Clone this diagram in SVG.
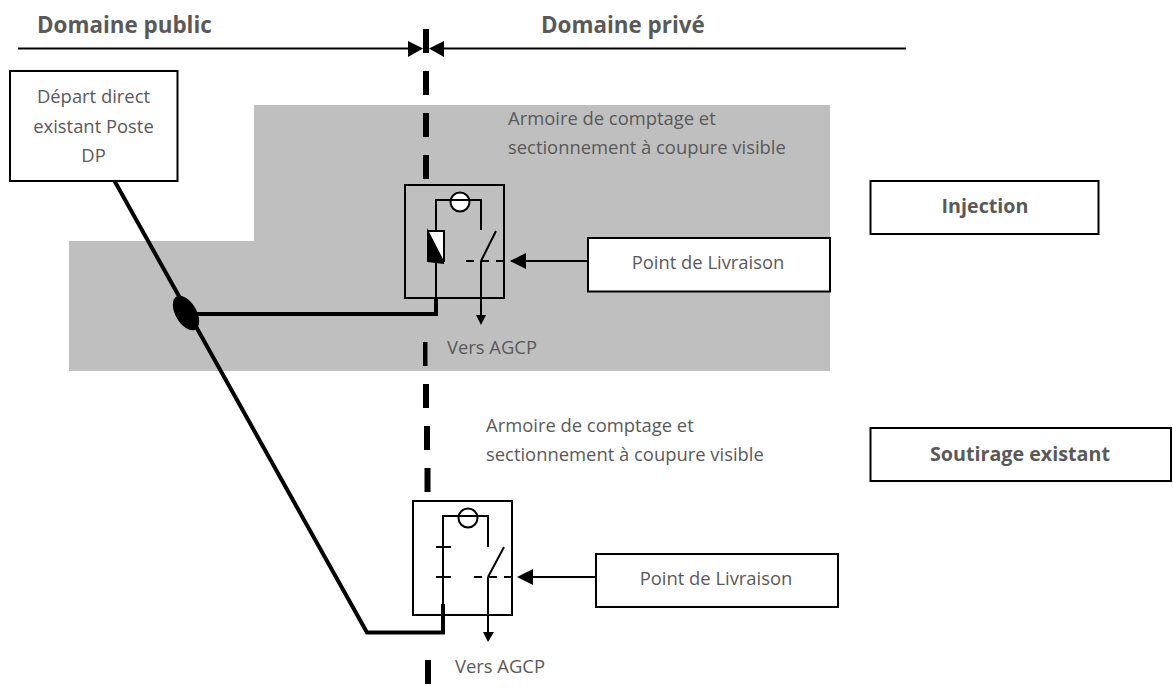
<svg xmlns="http://www.w3.org/2000/svg" width="1173" height="698" viewBox="0 0 1173 698">
<style>
text{font-family:"Open Sans","Noto Sans","Liberation Sans",sans-serif;font-size:18.4px;fill:#595959}
.b{font-weight:700;font-size:22.400px}
.c{font-weight:700;font-size:19.700px}
.m{text-anchor:middle}
.box{fill:#fff;stroke:#000;stroke-width:2}
.arm{fill:none;stroke:#000;stroke-width:2}
.thin{fill:none;stroke:#000;stroke-width:2}
.thick{fill:none;stroke:#000;stroke-width:4}
.dash{fill:#000;stroke:none}
</style>
<rect width="1173" height="698" fill="#fff"/>
<path d="M254 105H830V371H69V241H254Z" fill="#bfbfbf"/>
<g id="frontier">
<rect class="dash" x="423" y="29" width="6" height="24"/>
<rect class="dash" x="423" y="71" width="6" height="24"/>
<rect class="dash" x="423" y="113" width="6" height="24"/>
<rect class="dash" x="423" y="155" width="6" height="24"/>
<rect class="dash" x="423" y="342" width="4.500" height="24"/>
<rect class="dash" x="423" y="384" width="6" height="24"/>
<rect class="dash" x="424" y="426" width="6" height="24"/>
<rect class="dash" x="424.500" y="468" width="6" height="24"/>
<rect class="dash" x="425" y="660" width="6" height="24"/>
</g>
<g id="connectors">
<path class="thin" d="M18 48.500H410"/><path d="M423 48.500L408 41V57Z"/>
<path class="thin" d="M906 48.500H443"/><path d="M429 48.500L444 41V57Z"/>
<path class="thick" d="M114 180L367 632.500H443V604"/>
<path class="thick" d="M186 314H436V298"/>
<path class="thin" d="M588 261H525"/><path d="M510 261L526 253V269Z"/>
<path class="thin" d="M596 577H532"/><path d="M517 577L533 569V585Z"/>
</g>
<ellipse id="junction" cx="186" cy="313" rx="10.500" ry="19" transform="rotate(-30 186 313)"/>
<g id="depart"><rect class="box" x="10" y="71" width="167.500" height="110"/>
<text class="m" x="93.500" y="103">Départ direct</text><text class="m" x="93.500" y="132.500">existant Poste</text><text class="m" x="93.500" y="162">DP</text></g>
<g id="titres"><text class="b" x="37" y="33">Domaine public</text><text class="b" x="541" y="33">Domaine privé</text></g>
<g id="armoire-injection"><rect class="arm" x="405" y="185" width="99" height="113"/>
<path class="thin" d="M436 298V200H481V230M481 261L496 231M481 261V315"/>
<path class="thin" d="M466 261H512" stroke-dasharray="8 7"/>
<circle cx="460" cy="202" r="9.500" fill="#fff" stroke="#000" stroke-width="2"/><path class="thin" d="M451 200H469"/>
<path d="M428 231H444V261H428Z" fill="#fff" stroke="#000" stroke-width="2"/><path d="M427 228L444 261V264L427 262Z"/>
<path d="M481 325L476 315H486Z"/>
</g>
<g id="armoire-soutirage"><rect class="arm" x="413" y="501" width="99" height="114"/>
<path class="thin" d="M443 604V516H488V547M488 577L504 547M488 577V632"/>
<path class="thin" d="M474 577H520" stroke-dasharray="8 7"/>
<path class="thin" d="M436 547H451M436 577H451"/>
<circle cx="468" cy="518" r="9.500" fill="none" stroke="#000" stroke-width="2"/>
<path d="M488 642L483 632H494Z"/>
</g>
<g id="pl1"><rect class="box" x="588" y="238" width="242" height="53.500"/><text class="m" x="708" y="269">Point de Livraison</text></g>
<g id="pl2"><rect class="box" x="596" y="554" width="242" height="53"/><text class="m" x="716" y="585">Point de Livraison</text></g>
<g id="injection"><rect class="box" x="870.500" y="181" width="228" height="53"/><text class="m c" x="985" y="213">Injection</text></g>
<g id="soutirage"><rect class="box" x="870.500" y="428" width="300.500" height="53"/><text class="m c" x="1020" y="461">Soutirage existant</text></g>
<g id="labels">
<text x="508" y="125">Armoire de comptage et</text><text x="508" y="154">sectionnement à coupure visible</text>
<text x="486" y="432">Armoire de comptage et</text><text x="486" y="461">sectionnement à coupure visible</text>
<text x="447" y="354">Vers AGCP</text><text x="455" y="673">Vers AGCP</text>
</g>
</svg>
